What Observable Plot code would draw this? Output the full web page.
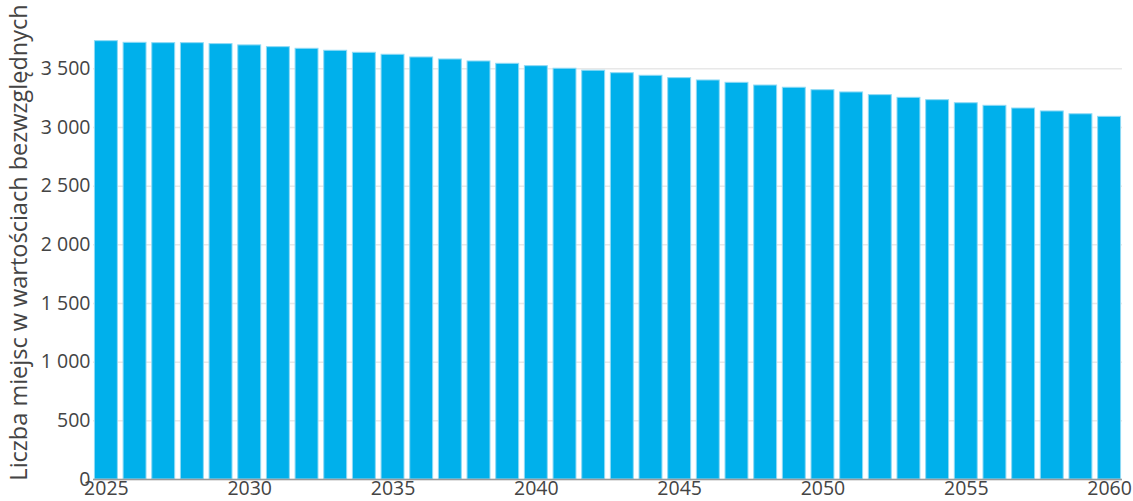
<!DOCTYPE html>
<html>
<head>
<meta charset="utf-8">
<script src="https://cdn.jsdelivr.net/npm/d3@7"></script>
<script src="https://cdn.jsdelivr.net/npm/@observablehq/plot@0.6"></script>
<style>
  body { margin: 0; background: #fff; }
  #chart svg { display: block; }
</style>
</head>
<body>
<div id="chart"></div>
<script>
const years = d3.range(2025, 2061);
const values = [3736, 3722, 3719, 3719, 3711, 3700, 3685, 3671, 3654, 3637,
                3620, 3597, 3580, 3563, 3543, 3523, 3501, 3484, 3463, 3441,
                3421, 3401, 3381, 3358, 3339, 3318, 3299, 3276, 3253, 3233,
                3207, 3185, 3162, 3137, 3113, 3091];
const xTicks = [2025, 2030, 2035, 2040, 2045, 2050, 2055, 2060];
const yTicks = [0, 500, 1000, 1500, 2000, 2500, 3000, 3500];
const yTitle = "Liczba miejsc w wartościach bezwzględnych";

const data = years.map((year, i) => ({year, value: values[i]}));
const fmt = d => d3.format(",")(d).replace(/,/g, " ");

const chart = Plot.plot({
  width: 1133,
  height: 501,
  marginLeft: 93,
  marginRight: 11,
  marginTop: 5,
  marginBottom: 22,
  style: {fontFamily: "'Open Sans', sans-serif", fontSize: "19.5px", color: "#444", background: "#fff"},
  x: {type: "band", domain: years, paddingInner: 0.2, paddingOuter: 0.05, round: false, label: null},
  y: {domain: [0, 4040], label: null},
  marks: [
    Plot.gridY(yTicks, {stroke: "#e8e8e8", strokeOpacity: 1, strokeWidth: 1.5}),
    Plot.barY(data, {x: "year", y: "value", fill: "#00b0eb", stroke: "#8fdaf5", strokeWidth: 1}),
    Plot.ruleY([0], {stroke: "#999", strokeWidth: 1.5}),
    Plot.axisX({ticks: xTicks, tickSize: 0, tickPadding: 2, fontSize: 19.5, tickFormat: d => String(d), label: null}),
    Plot.axisY({ticks: yTicks, tickSize: 0, tickPadding: 3, tickFormat: fmt, fontSize: 19.5, label: null}),
    Plot.axisY({ticks: [], fontSize: 23.5, label: yTitle, labelAnchor: "center", labelArrow: "none", labelOffset: 83})
  ]
});
document.getElementById("chart").appendChild(chart);
</script>
</body>
</html>
